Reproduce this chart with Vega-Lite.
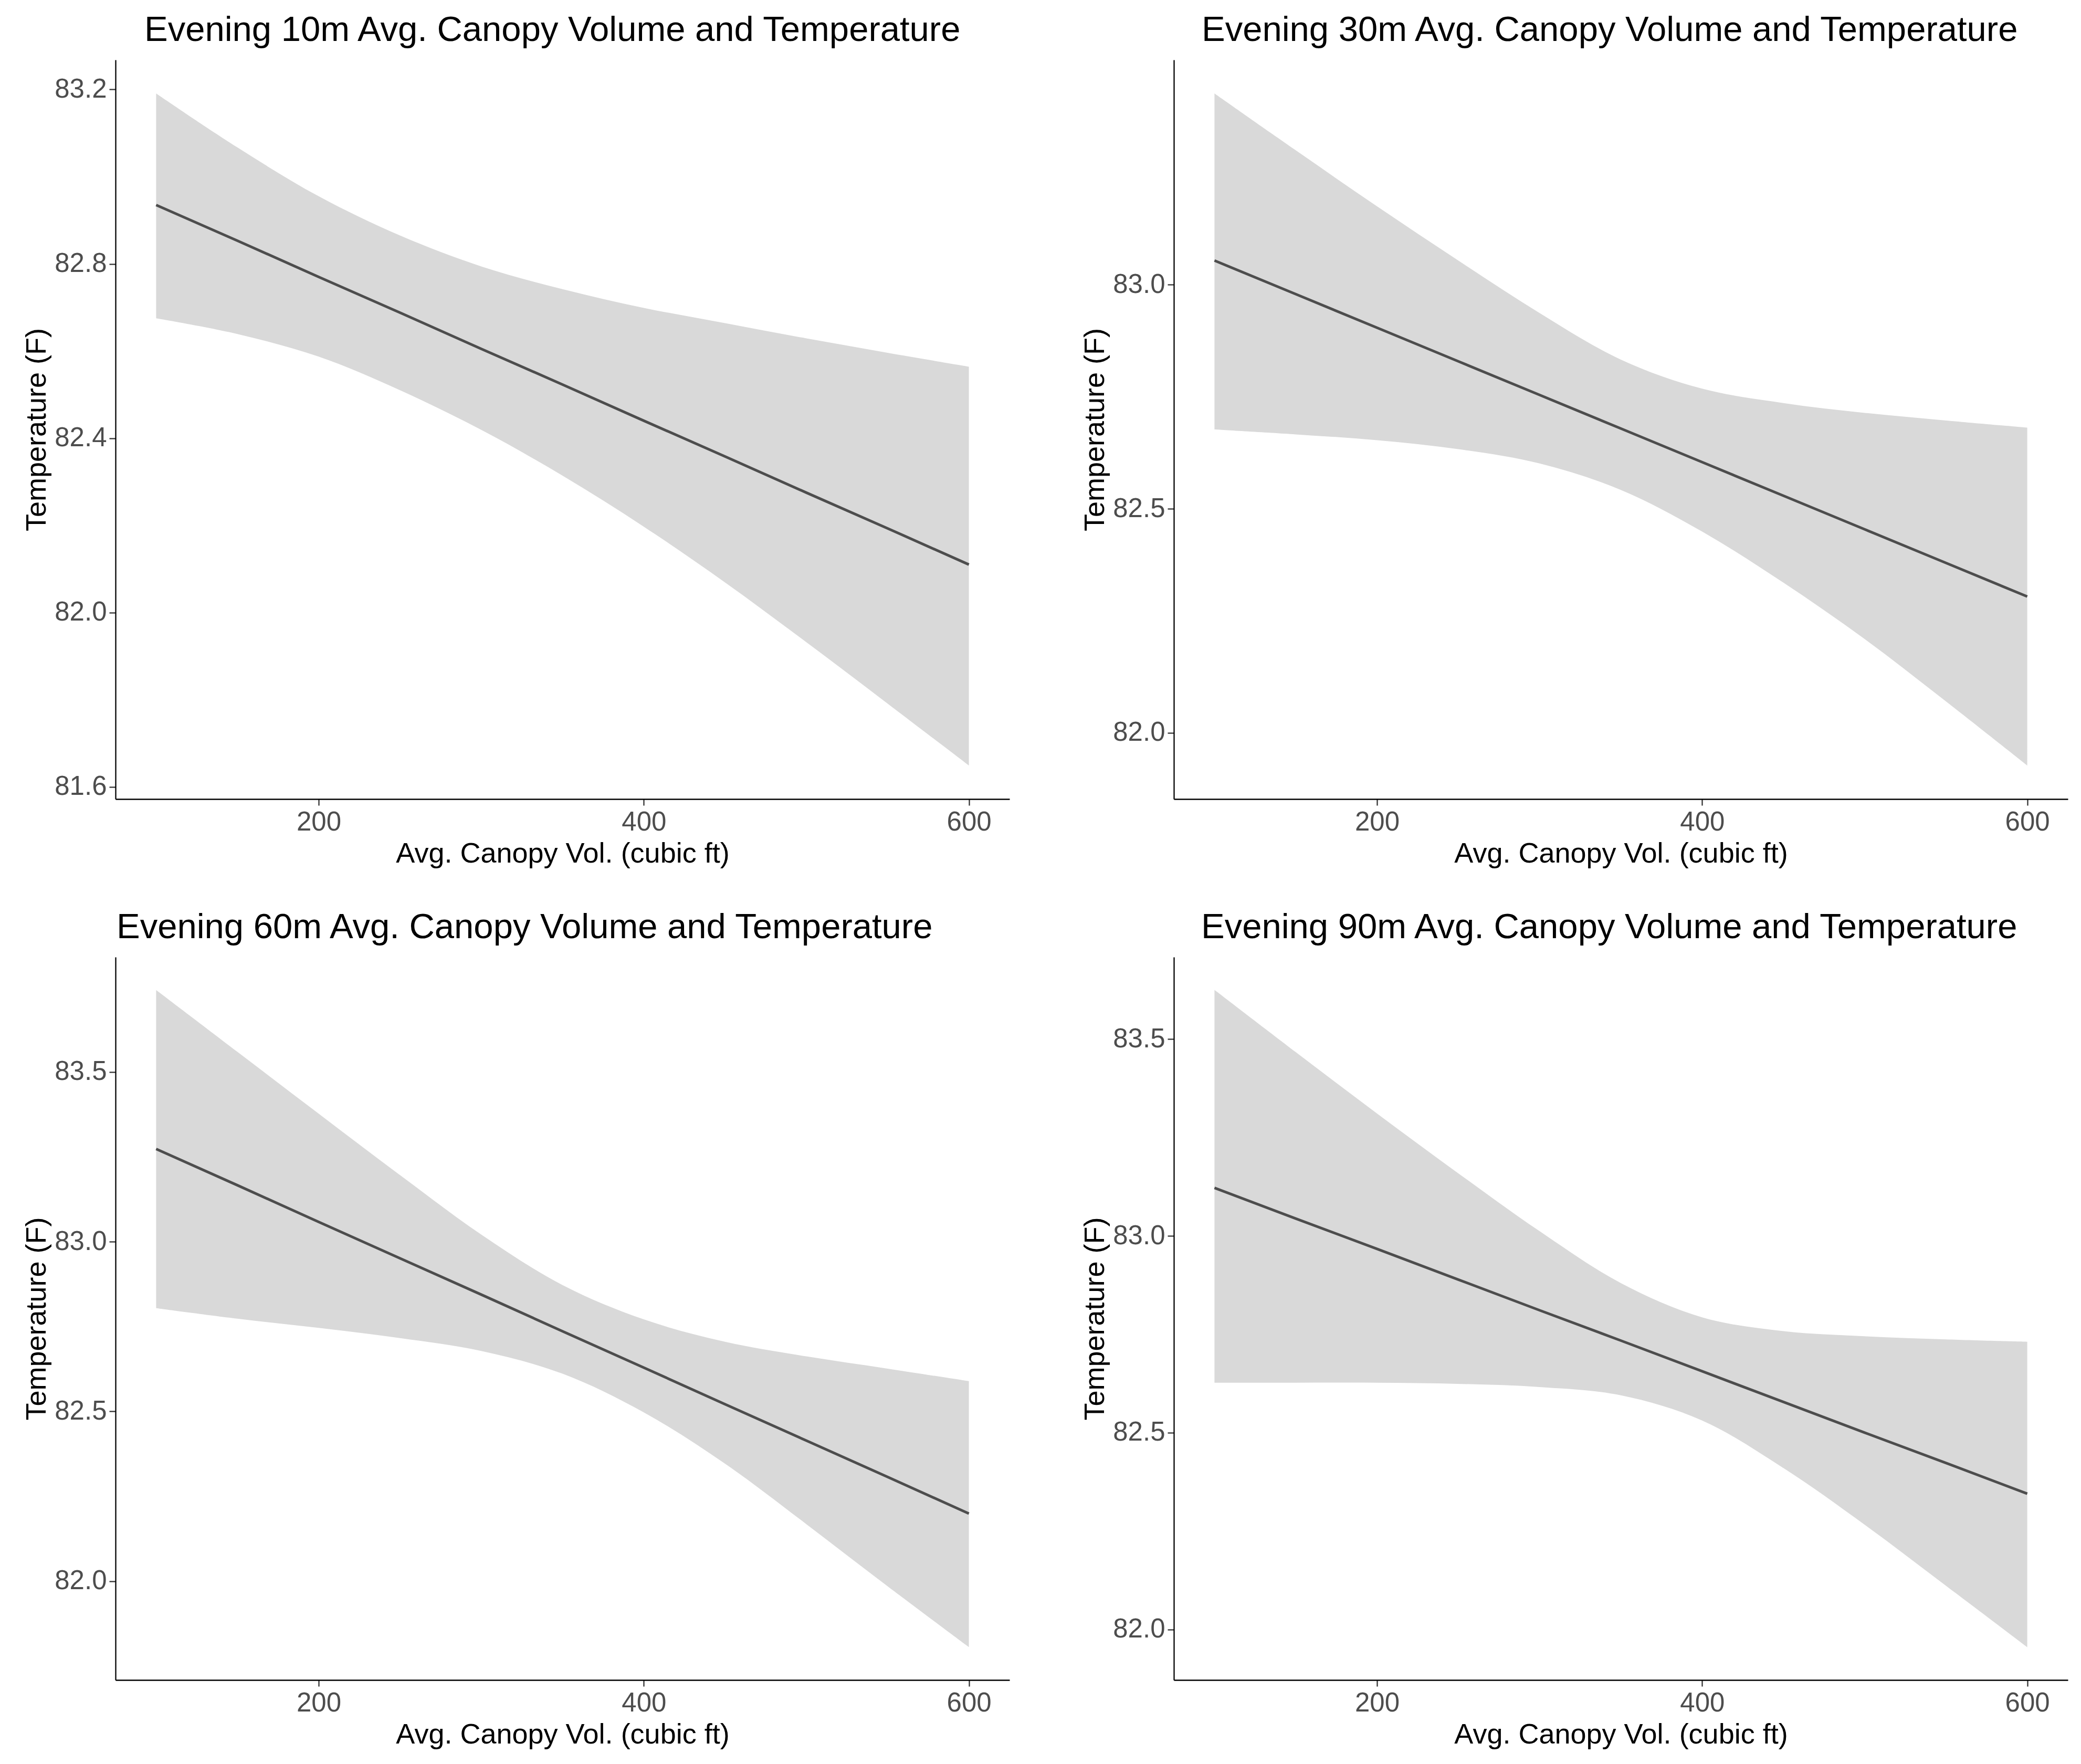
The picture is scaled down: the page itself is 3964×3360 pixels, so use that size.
{
  "$schema": "https://vega.github.io/schema/vega-lite/v6.json",
  "background": "white",
  "padding": {"left": 43, "top": 24, "right": 26, "bottom": 20},
  "columns": 2,
  "bounds": "flush",
  "align": "each",
  "spacing": {"row": 301, "column": 313},
  "data": {
    "values": [
      {"panel": "10m", "x": 100, "lo": 82.675, "hi": 83.191, "fit": 82.935},
      {"panel": "10m", "x": 150, "lo": 82.639, "hi": 83.067, "fit": 82.853},
      {"panel": "10m", "x": 200, "lo": 82.587, "hi": 82.955, "fit": 82.770},
      {"panel": "10m", "x": 250, "lo": 82.510, "hi": 82.865, "fit": 82.688},
      {"panel": "10m", "x": 300, "lo": 82.419, "hi": 82.794, "fit": 82.605},
      {"panel": "10m", "x": 350, "lo": 82.314, "hi": 82.742, "fit": 82.523},
      {"panel": "10m", "x": 400, "lo": 82.197, "hi": 82.699, "fit": 82.440},
      {"panel": "10m", "x": 450, "lo": 82.069, "hi": 82.664, "fit": 82.358},
      {"panel": "10m", "x": 500, "lo": 81.932, "hi": 82.629, "fit": 82.275},
      {"panel": "10m", "x": 550, "lo": 81.791, "hi": 82.596, "fit": 82.193},
      {"panel": "10m", "x": 600, "lo": 81.649, "hi": 82.564, "fit": 82.110},
      {"panel": "30m", "x": 100, "lo": 82.677, "hi": 83.427, "fit": 83.054},
      {"panel": "30m", "x": 150, "lo": 82.666, "hi": 83.300, "fit": 82.979},
      {"panel": "30m", "x": 200, "lo": 82.653, "hi": 83.175, "fit": 82.904},
      {"panel": "30m", "x": 250, "lo": 82.633, "hi": 83.054, "fit": 82.829},
      {"panel": "30m", "x": 300, "lo": 82.601, "hi": 82.937, "fit": 82.754},
      {"panel": "30m", "x": 350, "lo": 82.542, "hi": 82.833, "fit": 82.679},
      {"panel": "30m", "x": 400, "lo": 82.449, "hi": 82.768, "fit": 82.604},
      {"panel": "30m", "x": 450, "lo": 82.335, "hi": 82.736, "fit": 82.529},
      {"panel": "30m", "x": 500, "lo": 82.209, "hi": 82.714, "fit": 82.454},
      {"panel": "30m", "x": 550, "lo": 82.070, "hi": 82.697, "fit": 82.379},
      {"panel": "30m", "x": 600, "lo": 81.927, "hi": 82.681, "fit": 82.304},
      {"panel": "60m", "x": 100, "lo": 82.804, "hi": 83.741, "fit": 83.273},
      {"panel": "60m", "x": 150, "lo": 82.773, "hi": 83.559, "fit": 83.166},
      {"panel": "60m", "x": 200, "lo": 82.746, "hi": 83.377, "fit": 83.058},
      {"panel": "60m", "x": 250, "lo": 82.716, "hi": 83.196, "fit": 82.951},
      {"panel": "60m", "x": 300, "lo": 82.678, "hi": 83.021, "fit": 82.844},
      {"panel": "60m", "x": 350, "lo": 82.611, "hi": 82.872, "fit": 82.736},
      {"panel": "60m", "x": 400, "lo": 82.497, "hi": 82.771, "fit": 82.629},
      {"panel": "60m", "x": 450, "lo": 82.346, "hi": 82.705, "fit": 82.521},
      {"panel": "60m", "x": 500, "lo": 82.168, "hi": 82.662, "fit": 82.414},
      {"panel": "60m", "x": 550, "lo": 81.985, "hi": 82.626, "fit": 82.307},
      {"panel": "60m", "x": 600, "lo": 81.806, "hi": 82.589, "fit": 82.199},
      {"panel": "90m", "x": 100, "lo": 82.627, "hi": 83.625, "fit": 83.122},
      {"panel": "90m", "x": 150, "lo": 82.627, "hi": 83.467, "fit": 83.044},
      {"panel": "90m", "x": 200, "lo": 82.627, "hi": 83.311, "fit": 82.967},
      {"panel": "90m", "x": 250, "lo": 82.624, "hi": 83.159, "fit": 82.889},
      {"panel": "90m", "x": 300, "lo": 82.616, "hi": 83.012, "fit": 82.811},
      {"panel": "90m", "x": 350, "lo": 82.595, "hi": 82.880, "fit": 82.734},
      {"panel": "90m", "x": 400, "lo": 82.531, "hi": 82.793, "fit": 82.656},
      {"panel": "90m", "x": 450, "lo": 82.410, "hi": 82.758, "fit": 82.578},
      {"panel": "90m", "x": 500, "lo": 82.266, "hi": 82.745, "fit": 82.500},
      {"panel": "90m", "x": 550, "lo": 82.111, "hi": 82.737, "fit": 82.423},
      {"panel": "90m", "x": 600, "lo": 81.955, "hi": 82.731, "fit": 82.345}
    ]
  },
  "concat": [
    {
      "width": 1703, "height": 1408,
      "title": {"text": "Evening 10m Avg. Canopy Volume and Temperature", "dx": 55},
      "transform": [{"filter": "datum.panel === '10m'"}],
      "encoding": {"x": {"field": "x", "type": "quantitative", "scale": {"domain": [75, 625], "nice": false, "zero": false}, "axis": {"values": [200, 400, 600], "title": "Avg. Canopy Vol. (cubic ft)"}}},
      "layer": [
        {"mark": {"type": "area", "color": "#D9D9D9", "interpolate": "catmull-rom"},
         "encoding": {"y": {"field": "lo", "type": "quantitative", "scale": {"domain": [81.572, 83.268], "nice": false, "zero": false}, "axis": {"values": [81.6, 82.0, 82.4, 82.8, 83.2], "format": ".1f", "title": "Temperature (F)"}}, "y2": {"field": "hi"}}},
        {"mark": {"type": "line", "color": "#4D4D4D", "strokeWidth": 5},
         "encoding": {"y": {"field": "fit", "type": "quantitative", "scale": {"domain": [81.572, 83.268], "nice": false, "zero": false}}}}
      ]
    },
    {
      "width": 1703, "height": 1408,
      "title": {"text": "Evening 30m Avg. Canopy Volume and Temperature", "dx": 53},
      "transform": [{"filter": "datum.panel === '30m'"}],
      "encoding": {"x": {"field": "x", "type": "quantitative", "scale": {"domain": [75, 625], "nice": false, "zero": false}, "axis": {"values": [200, 400, 600], "title": "Avg. Canopy Vol. (cubic ft)"}}},
      "layer": [
        {"mark": {"type": "area", "color": "#D9D9D9", "interpolate": "catmull-rom"},
         "encoding": {"y": {"field": "lo", "type": "quantitative", "scale": {"domain": [81.852, 83.502], "nice": false, "zero": false}, "axis": {"values": [82.0, 82.5, 83.0], "format": ".1f", "title": "Temperature (F)"}}, "y2": {"field": "hi"}}},
        {"mark": {"type": "line", "color": "#4D4D4D", "strokeWidth": 5},
         "encoding": {"y": {"field": "fit", "type": "quantitative", "scale": {"domain": [81.852, 83.502], "nice": false, "zero": false}}}}
      ]
    },
    {
      "width": 1703, "height": 1377,
      "title": {"text": "Evening 60m Avg. Canopy Volume and Temperature", "dx": 2},
      "transform": [{"filter": "datum.panel === '60m'"}],
      "encoding": {"x": {"field": "x", "type": "quantitative", "scale": {"domain": [75, 625], "nice": false, "zero": false}, "axis": {"values": [200, 400, 600], "title": "Avg. Canopy Vol. (cubic ft)"}}},
      "layer": [
        {"mark": {"type": "area", "color": "#D9D9D9", "interpolate": "catmull-rom"},
         "encoding": {"y": {"field": "lo", "type": "quantitative", "scale": {"domain": [81.709, 83.838], "nice": false, "zero": false}, "axis": {"values": [82.0, 82.5, 83.0, 83.5], "format": ".1f", "title": "Temperature (F)"}}, "y2": {"field": "hi"}}},
        {"mark": {"type": "line", "color": "#4D4D4D", "strokeWidth": 5},
         "encoding": {"y": {"field": "fit", "type": "quantitative", "scale": {"domain": [81.709, 83.838], "nice": false, "zero": false}}}}
      ]
    },
    {
      "width": 1703, "height": 1377,
      "title": {"text": "Evening 90m Avg. Canopy Volume and Temperature", "dx": 52},
      "transform": [{"filter": "datum.panel === '90m'"}],
      "encoding": {"x": {"field": "x", "type": "quantitative", "scale": {"domain": [75, 625], "nice": false, "zero": false}, "axis": {"values": [200, 400, 600], "title": "Avg. Canopy Vol. (cubic ft)"}}},
      "layer": [
        {"mark": {"type": "area", "color": "#D9D9D9", "interpolate": "catmull-rom"},
         "encoding": {"y": {"field": "lo", "type": "quantitative", "scale": {"domain": [81.8715, 83.7085], "nice": false, "zero": false}, "axis": {"values": [82.0, 82.5, 83.0, 83.5], "format": ".1f", "title": "Temperature (F)"}}, "y2": {"field": "hi"}}},
        {"mark": {"type": "line", "color": "#4D4D4D", "strokeWidth": 5},
         "encoding": {"y": {"field": "fit", "type": "quantitative", "scale": {"domain": [81.8715, 83.7085], "nice": false, "zero": false}}}}
      ]
    }
  ],
  "config": {
    "font": "Liberation Sans",
    "view": {"stroke": null},
    "axis": {
      "grid": false,
      "domainColor": "#000000",
      "domainWidth": 2.3,
      "tickColor": "#333333",
      "tickWidth": 2.3,
      "tickSize": 12,
      "labelFont": "Liberation Sans",
      "labelFontSize": 51,
      "labelColor": "#4D4D4D",
      "titleFont": "Liberation Sans",
      "titleFontSize": 54,
      "titleColor": "#000000",
      "titleFontWeight": "normal"
    },
    "axisX": {"labelPadding": 7, "titlePadding": 8},
    "axisY": {"labelPadding": 5, "titlePadding": 6},
    "title": {
      "font": "Liberation Sans",
      "fontSize": 67,
      "fontWeight": "normal",
      "color": "#000000",
      "anchor": "start",
      "frame": "group",
      "baseline": "alphabetic",
      "offset": 22
    }
  }
}
